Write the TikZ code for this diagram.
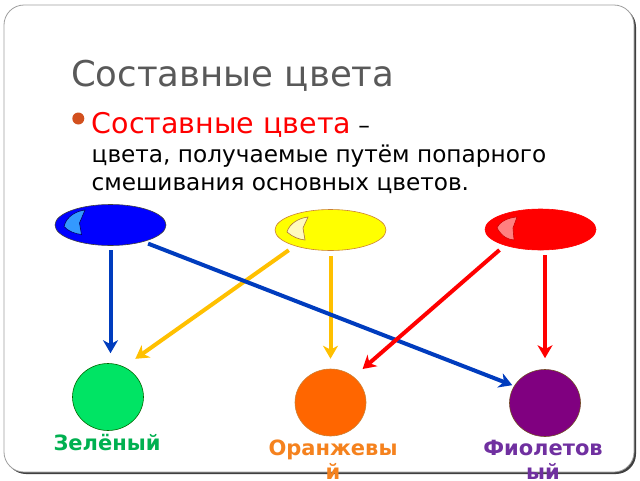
\documentclass[tikz,border=0pt]{standalone}
\usepackage{fontspec}
\setmainfont{DejaVu Sans}
\usetikzlibrary{arrows.meta,shapes.geometric,calc}
\definecolor{titlegray}{RGB}{89,89,89}
\definecolor{bulletc}{RGB}{210,80,30}
\definecolor{pblue}{RGB}{0,0,255}
\definecolor{hblue}{RGB}{51,153,255}
\definecolor{pyellow}{RGB}{255,255,0}
\definecolor{hyellow}{RGB}{255,250,190}
\definecolor{pred}{RGB}{255,0,0}
\definecolor{hred}{RGB}{255,128,128}
\definecolor{ablue}{RGB}{0,60,190}
\definecolor{ayellow}{RGB}{255,192,0}
\definecolor{ared}{RGB}{255,0,0}
\definecolor{cgreen}{RGB}{0,228,100}
\definecolor{corange}{RGB}{255,102,0}
\definecolor{cpurple}{RGB}{128,0,128}
\definecolor{lgreen}{RGB}{0,176,80}
\definecolor{lorange}{RGB}{245,130,30}
\definecolor{lpurple}{RGB}{112,48,160}
\begin{document}
\begin{tikzpicture}[x=1pt,y=-1pt,
  prim/.style={ellipse, minimum width=111pt, minimum height=41pt, inner sep=0pt, line width=0.6pt},
  sec/.style={ellipse, minimum width=71pt, minimum height=67pt, inner sep=0pt, line width=0.6pt},
  hl/.style={line width=0.6pt},
  arr/.style={line width=4pt, -{Stealth[length=13pt,width=15pt,inset=4pt]}},
  lbl/.style={font=\bfseries\fontsize{21}{24}\selectfont, inner sep=0pt, align=center}
]
\useasboundingbox (0,0) rectangle (640,480);
\fill[white] (0,0) rectangle (640,480);
% slide frame
\fill[black!75, rounded corners=20pt] (6,7) rectangle (636,474);
\draw[fill=white, draw=gray!75, line width=0.8pt, rounded corners=20pt] (4,5) rectangle (634,472);

% title and text
\node[anchor=base west, inner sep=0pt, text=titlegray, font=\fontsize{35.5}{42}\selectfont] (title) at (71,86) {Составные цвета};
\node[circle, fill=bulletc, minimum size=12pt, inner sep=0pt] (bul) at (78.3,118.5) {};
\node[anchor=north west, inner sep=0pt, align=left, font=\fontsize{23.2}{28.5}\selectfont] (def) at (91.5,112.5)
  {{\color{pred}\fontsize{28.5}{28.5}\selectfont Составные цвета} –\\
   цвета, получаемые путём попарного\\
   смешивания основных цветов.};

% primary colours
\node[prim, fill=pblue, draw=black!75] (blue) at (110.5,225) {};
\node[prim, fill=pyellow, draw=brown!80!orange] (yellow) at (330.5,230) {};
\node[prim, fill=pred, draw=pred] (red) at (540.5,229.5) {};

% highlights
\begin{scope}[shift={(blue.center)}]
  \draw[hl, fill=hblue, draw=blue!40!black] (-46.5,1.5) .. controls (-44,-9) and (-34,-14) .. (-25.5,-15) -- (-31,-2) -- (-29,9.5) .. controls (-35,9) and (-43,6) .. (-46.5,1.5) -- cycle;
\end{scope}
\begin{scope}[shift={(yellow.center)}]
  \draw[hl, fill=hyellow, draw=brown!90!black] (-43.5,2) .. controls (-41,-7) and (-31,-12) .. (-22.5,-13) -- (-27.5,-2) -- (-25.5,10) .. controls (-31,9.5) and (-38,7) .. (-43.5,2) -- cycle;
\end{scope}
\begin{scope}[shift={(red.center)}]
  \draw[hl, fill=hred, draw=red!80!black] (-43.5,-1.5) .. controls (-41,-8) and (-32,-12) .. (-23.5,-12.5) -- (-27.5,-1.5) -- (-26.5,10.5) .. controls (-32,10) and (-38,8) .. (-43.5,-1.5) -- cycle;
\end{scope}

% composite colours
\node[sec, fill=cgreen, draw=green!40!black] (green) at (108,397) {};
\node[sec, fill=corange, draw=brown!80!orange] (orange) at (330.5,402.5) {};
\node[sec, fill=cpurple, draw=brown!60!black] (purple) at (545,403) {};

% labels
\node[lbl, text=lgreen, anchor=base] (lg) at ($(green.south)+(-1,19.5)$) {Зелёный};
\node[lbl, text=lorange, anchor=north] (lo) at ($(orange.south)+(2.5,3)$) {Оранжевы\\й};
\node[lbl, text=lpurple, anchor=north] (lp) at ($(purple.south)+(-2,3)$) {Фиолетов\\ый};

% arrows
\draw[arr, draw=ayellow, shorten <=7.3pt, shorten >=13.8pt] (yellow.204.6) -- (green.62.4);
\draw[arr, draw=ayellow, shorten <=5pt, shorten >=10pt] (yellow.south) -- (orange.north);
\draw[arr, draw=ablue, shorten <=4.5pt, shorten >=10pt] (blue.south) -- (blue.south |- green.north);
\draw[arr, draw=ablue, shorten <=5pt, shorten >=2pt] (blue.-27.5) -- (purple.151.4);
\draw[arr, draw=ared, shorten <=6.9pt, shorten >=11.8pt] (red.204.4) -- (orange.48.8);
\draw[arr, draw=ared, shorten <=5pt, shorten >=11pt] (purple |- red.south) -- (purple.north);
\end{tikzpicture}
\end{document}
